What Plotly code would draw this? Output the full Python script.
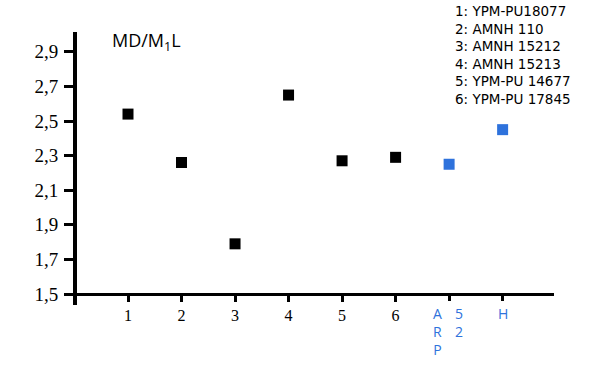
import plotly.graph_objects as go

# Data
specimen_pos = [1, 2, 3, 4, 5, 6]
specimen_vals = [2.54, 2.26, 1.79, 2.65, 2.27, 2.29]
ref_pos = [7, 8]
ref_vals = [2.25, 2.45]
x_tick_vals = [1, 2, 3, 4, 5, 6]
x_tick_text = ["1", "2", "3", "4", "5", "6"]
y_tick_vals = [1.5, 1.7, 1.9, 2.1, 2.3, 2.5, 2.7, 2.9]
y_tick_text = ["1,5", "1,7", "1,9", "2,1", "2,3", "2,5", "2,7", "2,9"]
legend_lines = ["1: YPM-PU18077", "2: AMNH 110", "3: AMNH 15212",
                "4: AMNH 15213", "5: YPM-PU 14677", "6: YPM-PU 17845"]
BLUE = "#2e72dc"

W, H = 600, 367
ML, MR, MT, MB = 77, 46, 32, 62
PW, PH = W - ML - MR, H - MT - MB

y_lo, y_hi = 1.4364, 3.0145
x_lo, x_hi = 0.047, 8.96
x_pos = (1.5 - y_lo) / (y_hi - y_lo)

fig = go.Figure()
fig.add_trace(go.Scatter(x=specimen_pos, y=specimen_vals, mode="markers",
                         marker=dict(symbol="square", size=11, color="black"),
                         showlegend=False))
fig.add_trace(go.Scatter(x=ref_pos, y=ref_vals, xaxis="x2", mode="markers",
                         marker=dict(symbol="square", size=11, color=BLUE),
                         showlegend=False))

fig.update_layout(
    width=W, height=H,
    margin=dict(l=ML, r=MR, t=MT, b=MB),
    paper_bgcolor="white", plot_bgcolor="white",
    xaxis=dict(range=[x_lo, x_hi], tickvals=x_tick_vals, ticktext=x_tick_text,
               showgrid=False, zeroline=False, showline=True, linecolor="black",
               linewidth=3, ticks="outside", ticklen=6, tickwidth=3,
               tickcolor="black", anchor="free", position=x_pos,
               tickfont=dict(family="Liberation Serif", size=16, color="black")),
    xaxis2=dict(range=[x_lo, x_hi], tickvals=ref_pos, showticklabels=False,
                overlaying="x", side="bottom", anchor="free", position=x_pos,
                showgrid=False, zeroline=False, showline=False,
                ticks="outside", ticklen=6, tickwidth=3, tickcolor="black",
                tickfont=dict(color="black")),
    yaxis=dict(range=[y_lo, y_hi], tickvals=y_tick_vals, ticktext=y_tick_text,
               showgrid=False, zeroline=False, showline=True, linecolor="black",
               linewidth=4, ticks="outside", ticklen=9, tickwidth=3,
               tickcolor="black", ticklabelstandoff=2,
               tickfont=dict(family="Liberation Serif", size=19, color="black")),
)

fig.add_annotation(x=(110 - ML) / PW, y=1 + (MT - 42) / PH,
                   xref="paper", yref="paper",
                   text="MD/M<sub>1</sub>L", showarrow=False,
                   xanchor="left", yanchor="middle",
                   font=dict(family="Open Sans", size=18, color="black"))

fig.add_annotation(x=(453 - ML) / PW, y=1 + (MT - 1) / PH,
                   xref="paper", yref="paper", text="<br>".join(legend_lines),
                   showarrow=False, xanchor="left", yanchor="top", align="left",
                   font=dict(family="DejaVu Sans", size=13.5, color="black"))

# blue x labels
fig.add_annotation(x=ref_pos[0], y=1.5, xref="x", yref="y",
                   text="A<br>R<br>P", showarrow=False, xanchor="center",
                   yanchor="top", xshift=-12, yshift=-8, align="center",
                   font=dict(family="Open Sans", size=14, color=BLUE))
fig.add_annotation(x=ref_pos[0], y=1.5, xref="x", yref="y",
                   text="5<br>2", showarrow=False, xanchor="center",
                   yanchor="top", xshift=10, yshift=-8, align="center",
                   font=dict(family="Open Sans", size=14, color=BLUE))
fig.add_annotation(x=ref_pos[1], y=1.5, xref="x", yref="y",
                   text="H", showarrow=False, xanchor="center",
                   yanchor="top", yshift=-8,
                   font=dict(family="Open Sans", size=14, color=BLUE))

fig.write_html("out.html", config={"displayModeBar": False},
               post_script="document.body.style.margin='0';")
